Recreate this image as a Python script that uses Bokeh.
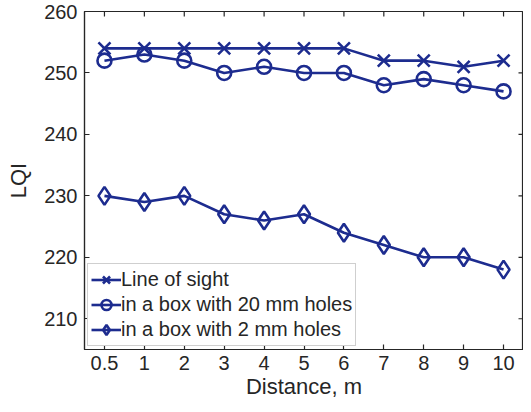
import math
from bokeh.plotting import figure
from bokeh.models import FactorRange, Range1d, FixedTicker, Legend, LegendItem, ColumnDataSource
from bokeh.transform import dodge
from bokeh.embed import file_html
from bokeh.resources import INLINE

distances = ["0.5", "1", "2", "3", "4", "5", "6", "7", "8", "9", "10"]
line_of_sight = [254, 254, 254, 254, 254, 254, 254, 252, 252, 251, 252]
box_20mm = [252, 253, 252, 250, 251, 250, 250, 248, 249, 248, 247]
box_2mm = [230, 229, 230, 227, 226, 227, 224, 222, 220, 220, 218]
y_ticks = [210, 220, 230, 240, 250, 260]
y_min, y_max = 205, 260

BLUE = "#1d2c8f"
AX = "#262626"
FONT = "Liberation Sans"

p = figure(x_range=FactorRange(*distances), y_range=Range1d(y_min, y_max),
           width=523, height=404, output_backend="svg", toolbar_location=None,
           min_border_left=84, min_border_right=0, min_border_top=11, min_border_bottom=55)
p.grid.visible = False
p.outline_line_color = AX
p.outline_line_width = 1.2
p.background_fill_color = "white"
p.border_fill_color = "white"

def style_axis(ax):
    ax.axis_line_color = AX
    ax.axis_line_width = 1.2
    ax.major_tick_line_color = AX
    ax.major_tick_line_width = 1.2
    ax.major_tick_in = 5
    ax.major_tick_out = 0
    ax.minor_tick_line_color = None
    ax.major_label_text_font = FONT
    ax.major_label_text_color = AX
    ax.axis_label_text_font = FONT
    ax.axis_label_text_color = AX
    ax.axis_label_text_font_style = "normal"

xa = p.xaxis[0]
style_axis(xa)
xa.axis_label = "Distance, m"
xa.major_label_text_font_size = "20px"
xa.axis_label_text_font_size = "22px"
xa.major_label_standoff = 6
xa.axis_label_standoff = 1

ya = p.yaxis[0]
style_axis(ya)
ya.ticker = FixedTicker(ticks=y_ticks)
ya.axis_label = "LQI"
ya.major_label_text_font_size = "20px"
ya.axis_label_text_font_size = "22px"
ya.major_label_standoff = 7
ya.axis_label_standoff = 10

# inward tick marks on the top and right edges of the box
p.ray(x=distances, y=[y_max] * len(distances), length=5, angle=-math.pi / 2,
      length_units="screen", line_color=AX, line_width=1.2)
right_src = ColumnDataSource(dict(x=[distances[-1]] * len(y_ticks), y=y_ticks))
p.ray(x=dodge("x", 0.5, range=p.x_range), y="y", source=right_src, length=5,
      angle=math.pi, length_units="screen", line_color=AX, line_width=1.2)

lw = 2.6
l1 = p.line(distances, line_of_sight, line_color=BLUE, line_width=lw)
m1 = p.scatter(distances, line_of_sight, marker="x", size=17, line_color=BLUE, line_width=lw)
l2 = p.line(distances, box_20mm, line_color=BLUE, line_width=lw)
m2 = p.scatter(distances, box_20mm, marker="circle", size=14, line_color=BLUE, fill_color=None, line_width=lw)
l3 = p.line(distances, box_2mm, line_color=BLUE, line_width=lw)
m3 = p.scatter(distances, box_2mm, marker="diamond", size=18, line_color=BLUE, fill_color=None, line_width=lw)

legend = Legend(items=[
    LegendItem(label="Line of sight", renderers=[l1, m1]),
    LegendItem(label="in a box with 20 mm holes", renderers=[l2, m2]),
    LegendItem(label="in a box with 2 mm holes", renderers=[l3, m3]),
], location="bottom_left")
legend.margin = 3
legend.padding = 3
legend.spacing = 0
legend.glyph_width = 30
legend.glyph_height = 25
legend.label_height = 25
legend.label_standoff = 0
legend.label_text_font = FONT
legend.label_text_font_size = "20px"
legend.label_text_color = AX
legend.border_line_color = "#a0a0a0"
legend.border_line_width = 1.5
legend.background_fill_color = "white"
legend.background_fill_alpha = 1
p.add_layout(legend, "center")

open("out.html", "w").write(file_html(p, INLINE))
